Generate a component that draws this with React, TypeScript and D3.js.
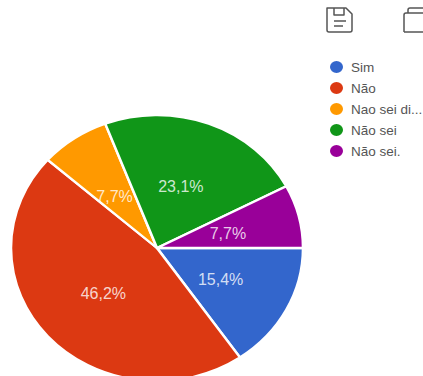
import React from "react";
import * as d3 from "d3";

const categories = ["Sim", "Não", "Nao sei di...", "Não sei", "Não sei."];
const shares = [15.4, 46.2, 7.7, 23.1, 7.7];
const shareLabels = ["15,4%", "46,2%", "7,7%", "23,1%", "7,7%"];
const colors = ["#3366cc", "#dc3912", "#ff9900", "#109618", "#990099"];

const WIDTH = 423;
const HEIGHT = 376;
const CX = 157;
const CY = 248;
const RX = 146;
const RY = 133;
const LABEL_R = 73;
const FONT = "'Liberation Sans', Arial, sans-serif";

// small nudges of each label from its slice centroid, in pixels
const labelOffsets = [
  [-1, 1],
  [1, 1.5],
  [-1, 3],
  [-2, 1],
  [0, 1],
];

export default function App() {
  const pie = d3
    .pie<number>()
    .sort(null)
    .startAngle(Math.PI / 2)
    .endAngle(Math.PI / 2 + 2 * Math.PI);
  const arcs = pie(shares);
  const arc = d3.arc<d3.PieArcDatum<number>>().innerRadius(0).outerRadius(RX);
  const labelArc = d3
    .arc<d3.PieArcDatum<number>>()
    .innerRadius(LABEL_R)
    .outerRadius(LABEL_R);
  const yScale = RY / RX;

  const legendY = d3.scalePoint<string>().domain(categories).range([67, 151]);

  return (
    <svg
      width={WIDTH}
      height={HEIGHT}
      viewBox={`0 0 ${WIDTH} ${HEIGHT}`}
      style={{ position: "absolute", left: 0, top: 0, background: "#fff" }}
    >
      <g transform={`translate(${CX},${CY}) scale(1,${yScale})`}>
        {arcs.map((d, i) => (
          <path key={i} d={arc(d) ?? ""} fill={colors[i]} stroke="#fff" strokeWidth={2.5} strokeLinejoin="round" />
        ))}
      </g>
      {arcs.map((d, i) => {
        const [x, y] = labelArc.centroid(d);
        return (
          <text
            key={i}
            x={CX + x + labelOffsets[i][0]}
            y={CY + y * yScale + labelOffsets[i][1]}
            textAnchor="middle"
            dominantBaseline="central"
            fontFamily={FONT}
            fontSize={16}
            fill="#fff"
            fillOpacity={0.8}
          >
            {shareLabels[i]}
          </text>
        );
      })}

      {categories.map((c, i) => (
        <g key={c}>
          <ellipse cx={336.5} cy={legendY(c)} rx={6.5} ry={6} fill={colors[i]} />
          <text
            x={351}
            y={legendY(c)}
            dominantBaseline="central"
            fontFamily={FONT}
            fontSize={13.5}
            fill="#555"
          >
            {c}
          </text>
        </g>
      ))}

      {/* save icon */}
      <g fill="none" stroke="#555" strokeWidth={1.5} strokeLinejoin="round">
        <path d="M327 8H346L352 14V30Q352 32 350 32H329Q327 32 327 30Z" />
        <path d="M334 8V15H344V8" />
        <path d="M334 21H346M334 26H343" />
      </g>
      {/* copy icon */}
      <g fill="none" stroke="#555" strokeWidth={1.5} strokeLinejoin="round">
        <path d="M404 32V15Q404 13 406 13H424M404 32H424" />
        <path d="M408 13V10Q408 8 410 8H424" />
      </g>
    </svg>
  );
}
